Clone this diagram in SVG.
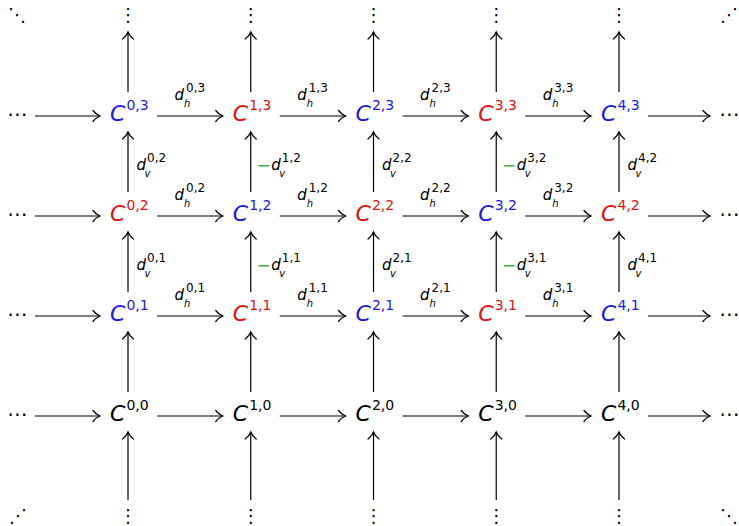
<svg xmlns="http://www.w3.org/2000/svg" width="739" height="526" viewBox="0 0 739 526">
<style>
text{font-family:"DejaVu Sans","Liberation Sans",sans-serif;fill:#000}
.n{font-size:22px}
.it{font-style:italic}
.sp{font-size:14px}
.l{font-size:15px}
.ls{font-size:12px}
.lb{font-size:10px}
.b{fill:#1a1ae0}
.r{fill:#dd1111}
.g{fill:#4cae4c;font-size:17px}
.dots{font-size:18px}
.hd{font-size:20px}
.c line{stroke:#000;stroke-width:1.2;marker-end:url(#arr)}
</style>
<defs>
<marker id="arr" markerWidth="14" markerHeight="14" viewBox="-9 -7 11 14" refX="0" refY="0" orient="auto" markerUnits="userSpaceOnUse">
<path d="M-7,-5.5 C-4.5,-2.2 -1.3,-0.5 0,0 C-1.3,0.5 -4.5,2.2 -7,5.5" fill="none" stroke="#000" stroke-width="1.25" stroke-linecap="round"/>
</marker>
</defs>

<g id="dots">
<text class="dots" x="17" y="21" text-anchor="middle">⋱</text>
<text class="dots" x="729" y="21" text-anchor="middle">⋰</text>
<text class="dots" x="18" y="522" text-anchor="middle">⋰</text>
<text class="dots" x="729" y="522" text-anchor="middle">⋱</text>
<text class="dots" x="128" y="21" text-anchor="middle">⋮</text>
<text class="dots" x="250.75" y="21" text-anchor="middle">⋮</text>
<text class="dots" x="373.5" y="21" text-anchor="middle">⋮</text>
<text class="dots" x="496.25" y="21" text-anchor="middle">⋮</text>
<text class="dots" x="619" y="21" text-anchor="middle">⋮</text>
<text class="dots" x="128" y="522" text-anchor="middle">⋮</text>
<text class="dots" x="250.75" y="522" text-anchor="middle">⋮</text>
<text class="dots" x="373.5" y="522" text-anchor="middle">⋮</text>
<text class="dots" x="496.25" y="522" text-anchor="middle">⋮</text>
<text class="dots" x="619" y="522" text-anchor="middle">⋮</text>
<text class="hd" x="17.5" y="121" text-anchor="middle">⋯</text>
<text class="hd" x="17.5" y="221" text-anchor="middle">⋯</text>
<text class="hd" x="17.5" y="321" text-anchor="middle">⋯</text>
<text class="hd" x="17.5" y="421" text-anchor="middle">⋯</text>
<text class="hd" x="729.5" y="121" text-anchor="middle">⋯</text>
<text class="hd" x="729.5" y="221" text-anchor="middle">⋯</text>
<text class="hd" x="729.5" y="321" text-anchor="middle">⋯</text>
<text class="hd" x="729.5" y="421" text-anchor="middle">⋯</text>
</g>

<g id="C03"><text class="n b" x="110" y="121"><tspan class="it">C</tspan><tspan class="sp" dx="1" dy="-11">0,3</tspan></text></g>
<g id="C13"><text class="n r" x="232.75" y="121"><tspan class="it">C</tspan><tspan class="sp" dx="1" dy="-11">1,3</tspan></text></g>
<g id="C23"><text class="n b" x="355.5" y="121"><tspan class="it">C</tspan><tspan class="sp" dx="1" dy="-11">2,3</tspan></text></g>
<g id="C33"><text class="n r" x="478.25" y="121"><tspan class="it">C</tspan><tspan class="sp" dx="1" dy="-11">3,3</tspan></text></g>
<g id="C43"><text class="n b" x="601" y="121"><tspan class="it">C</tspan><tspan class="sp" dx="1" dy="-11">4,3</tspan></text></g>

<g id="C02"><text class="n r" x="110" y="221"><tspan class="it">C</tspan><tspan class="sp" dx="1" dy="-11">0,2</tspan></text></g>
<g id="C12"><text class="n b" x="232.75" y="221"><tspan class="it">C</tspan><tspan class="sp" dx="1" dy="-11">1,2</tspan></text></g>
<g id="C22"><text class="n r" x="355.5" y="221"><tspan class="it">C</tspan><tspan class="sp" dx="1" dy="-11">2,2</tspan></text></g>
<g id="C32"><text class="n b" x="478.25" y="221"><tspan class="it">C</tspan><tspan class="sp" dx="1" dy="-11">3,2</tspan></text></g>
<g id="C42"><text class="n r" x="601" y="221"><tspan class="it">C</tspan><tspan class="sp" dx="1" dy="-11">4,2</tspan></text></g>

<g id="C01"><text class="n b" x="110" y="321"><tspan class="it">C</tspan><tspan class="sp" dx="1" dy="-11">0,1</tspan></text></g>
<g id="C11"><text class="n r" x="232.75" y="321"><tspan class="it">C</tspan><tspan class="sp" dx="1" dy="-11">1,1</tspan></text></g>
<g id="C21"><text class="n b" x="355.5" y="321"><tspan class="it">C</tspan><tspan class="sp" dx="1" dy="-11">2,1</tspan></text></g>
<g id="C31"><text class="n r" x="478.25" y="321"><tspan class="it">C</tspan><tspan class="sp" dx="1" dy="-11">3,1</tspan></text></g>
<g id="C41"><text class="n b" x="601" y="321"><tspan class="it">C</tspan><tspan class="sp" dx="1" dy="-11">4,1</tspan></text></g>

<g id="C00"><text class="n" x="110" y="421"><tspan class="it">C</tspan><tspan class="sp" dx="1" dy="-11">0,0</tspan></text></g>
<g id="C10"><text class="n" x="232.75" y="421"><tspan class="it">C</tspan><tspan class="sp" dx="1" dy="-11">1,0</tspan></text></g>
<g id="C20"><text class="n" x="355.5" y="421"><tspan class="it">C</tspan><tspan class="sp" dx="1" dy="-11">2,0</tspan></text></g>
<g id="C30"><text class="n" x="478.25" y="421"><tspan class="it">C</tspan><tspan class="sp" dx="1" dy="-11">3,0</tspan></text></g>
<g id="C40"><text class="n" x="601" y="421"><tspan class="it">C</tspan><tspan class="sp" dx="1" dy="-11">4,0</tspan></text></g>

<g id="connectors" class="c">
<line x1="35" y1="116" x2="100" y2="116"/><line x1="157" y1="116" x2="222.75" y2="116"/><line x1="279.75" y1="116" x2="345.5" y2="116"/><line x1="402.5" y1="116" x2="468.25" y2="116"/><line x1="525.25" y1="116" x2="591" y2="116"/><line x1="648" y1="116" x2="710" y2="116"/>
<line x1="35" y1="216" x2="100" y2="216"/><line x1="157" y1="216" x2="222.75" y2="216"/><line x1="279.75" y1="216" x2="345.5" y2="216"/><line x1="402.5" y1="216" x2="468.25" y2="216"/><line x1="525.25" y1="216" x2="591" y2="216"/><line x1="648" y1="216" x2="710" y2="216"/>
<line x1="35" y1="316" x2="100" y2="316"/><line x1="157" y1="316" x2="222.75" y2="316"/><line x1="279.75" y1="316" x2="345.5" y2="316"/><line x1="402.5" y1="316" x2="468.25" y2="316"/><line x1="525.25" y1="316" x2="591" y2="316"/><line x1="648" y1="316" x2="710" y2="316"/>
<line x1="35" y1="416" x2="100" y2="416"/><line x1="157" y1="416" x2="222.75" y2="416"/><line x1="279.75" y1="416" x2="345.5" y2="416"/><line x1="402.5" y1="416" x2="468.25" y2="416"/><line x1="525.25" y1="416" x2="591" y2="416"/><line x1="648" y1="416" x2="710" y2="416"/>
<line x1="128" y1="500" x2="128" y2="432"/><line x1="128" y1="392" x2="128" y2="332"/><line x1="128" y1="292" x2="128" y2="232"/><line x1="128" y1="192" x2="128" y2="132"/><line x1="128" y1="92" x2="128" y2="32"/>
<line x1="250.75" y1="500" x2="250.75" y2="432"/><line x1="250.75" y1="392" x2="250.75" y2="332"/><line x1="250.75" y1="292" x2="250.75" y2="232"/><line x1="250.75" y1="192" x2="250.75" y2="132"/><line x1="250.75" y1="92" x2="250.75" y2="32"/>
<line x1="373.5" y1="500" x2="373.5" y2="432"/><line x1="373.5" y1="392" x2="373.5" y2="332"/><line x1="373.5" y1="292" x2="373.5" y2="232"/><line x1="373.5" y1="192" x2="373.5" y2="132"/><line x1="373.5" y1="92" x2="373.5" y2="32"/>
<line x1="496.25" y1="500" x2="496.25" y2="432"/><line x1="496.25" y1="392" x2="496.25" y2="332"/><line x1="496.25" y1="292" x2="496.25" y2="232"/><line x1="496.25" y1="192" x2="496.25" y2="132"/><line x1="496.25" y1="92" x2="496.25" y2="32"/>
<line x1="619" y1="500" x2="619" y2="432"/><line x1="619" y1="392" x2="619" y2="332"/><line x1="619" y1="292" x2="619" y2="232"/><line x1="619" y1="192" x2="619" y2="132"/><line x1="619" y1="92" x2="619" y2="32"/>

<g id="hlabels">
<text class="l"><tspan class="it" x="174.5" y="100">d</tspan><tspan class="lb it" x="184" y="107">h</tspan><tspan class="ls" x="186" y="92">0,3</tspan></text>
<text class="l"><tspan class="it" x="297.2" y="100">d</tspan><tspan class="lb it" x="306.7" y="107">h</tspan><tspan class="ls" x="308.7" y="92">1,3</tspan></text>
<text class="l"><tspan class="it" x="420" y="100">d</tspan><tspan class="lb it" x="429.5" y="107">h</tspan><tspan class="ls" x="431.5" y="92">2,3</tspan></text>
<text class="l"><tspan class="it" x="542.7" y="100">d</tspan><tspan class="lb it" x="552.2" y="107">h</tspan><tspan class="ls" x="554.2" y="92">3,3</tspan></text>
<text class="l"><tspan class="it" x="174.5" y="200">d</tspan><tspan class="lb it" x="184" y="207">h</tspan><tspan class="ls" x="186" y="192">0,2</tspan></text>
<text class="l"><tspan class="it" x="297.2" y="200">d</tspan><tspan class="lb it" x="306.7" y="207">h</tspan><tspan class="ls" x="308.7" y="192">1,2</tspan></text>
<text class="l"><tspan class="it" x="420" y="200">d</tspan><tspan class="lb it" x="429.5" y="207">h</tspan><tspan class="ls" x="431.5" y="192">2,2</tspan></text>
<text class="l"><tspan class="it" x="542.7" y="200">d</tspan><tspan class="lb it" x="552.2" y="207">h</tspan><tspan class="ls" x="554.2" y="192">3,2</tspan></text>
<text class="l"><tspan class="it" x="174.5" y="300">d</tspan><tspan class="lb it" x="184" y="307">h</tspan><tspan class="ls" x="186" y="292">0,1</tspan></text>
<text class="l"><tspan class="it" x="297.2" y="300">d</tspan><tspan class="lb it" x="306.7" y="307">h</tspan><tspan class="ls" x="308.7" y="292">1,1</tspan></text>
<text class="l"><tspan class="it" x="420" y="300">d</tspan><tspan class="lb it" x="429.5" y="307">h</tspan><tspan class="ls" x="431.5" y="292">2,1</tspan></text>
<text class="l"><tspan class="it" x="542.7" y="300">d</tspan><tspan class="lb it" x="552.2" y="307">h</tspan><tspan class="ls" x="554.2" y="292">3,1</tspan></text>
</g>
<g id="vlabels">
<text class="l"><tspan class="it" x="136.5" y="170">d</tspan><tspan class="lb it" x="144.5" y="177">v</tspan><tspan class="ls" x="147" y="162">0,2</tspan></text>
<text class="l"><tspan class="g" x="256.5" y="171">−</tspan><tspan class="it" x="271.25" y="170">d</tspan><tspan class="lb it" x="279.25" y="177">v</tspan><tspan class="ls" x="281.75" y="162">1,2</tspan></text>
<text class="l"><tspan class="it" x="382" y="170">d</tspan><tspan class="lb it" x="390" y="177">v</tspan><tspan class="ls" x="392.5" y="162">2,2</tspan></text>
<text class="l"><tspan class="g" x="502" y="171">−</tspan><tspan class="it" x="516.75" y="170">d</tspan><tspan class="lb it" x="524.75" y="177">v</tspan><tspan class="ls" x="527.25" y="162">3,2</tspan></text>
<text class="l"><tspan class="it" x="627.5" y="170">d</tspan><tspan class="lb it" x="635.5" y="177">v</tspan><tspan class="ls" x="638" y="162">4,2</tspan></text>
<text class="l"><tspan class="it" x="136.5" y="270">d</tspan><tspan class="lb it" x="144.5" y="277">v</tspan><tspan class="ls" x="147" y="262">0,1</tspan></text>
<text class="l"><tspan class="g" x="256.5" y="271">−</tspan><tspan class="it" x="271.25" y="270">d</tspan><tspan class="lb it" x="279.25" y="277">v</tspan><tspan class="ls" x="281.75" y="262">1,1</tspan></text>
<text class="l"><tspan class="it" x="382" y="270">d</tspan><tspan class="lb it" x="390" y="277">v</tspan><tspan class="ls" x="392.5" y="262">2,1</tspan></text>
<text class="l"><tspan class="g" x="502" y="271">−</tspan><tspan class="it" x="516.75" y="270">d</tspan><tspan class="lb it" x="524.75" y="277">v</tspan><tspan class="ls" x="527.25" y="262">3,1</tspan></text>
<text class="l"><tspan class="it" x="627.5" y="270">d</tspan><tspan class="lb it" x="635.5" y="277">v</tspan><tspan class="ls" x="638" y="262">4,1</tspan></text>
</g>
</g>
</svg>
